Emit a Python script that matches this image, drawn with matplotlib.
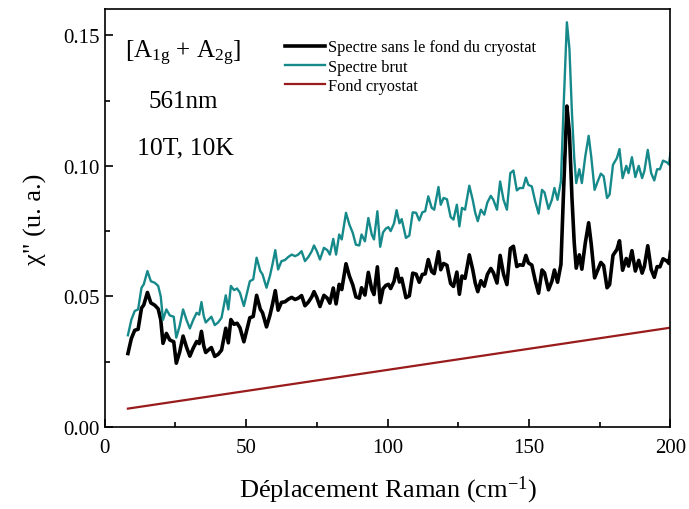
import matplotlib
matplotlib.use("Agg")
import matplotlib.pyplot as plt
from matplotlib.ticker import MultipleLocator

plt.rcParams['font.family'] = ['Liberation Serif', 'DejaVu Serif']
plt.rcParams['mathtext.fontset'] = 'custom'
plt.rcParams['mathtext.rm'] = 'Liberation Serif'
plt.rcParams['mathtext.it'] = 'Liberation Serif:italic'

# Déplacement Raman (cm-1)
raman = [8.2, 9.4, 10.6, 11.8, 13.0, 13.8, 15.1, 16.3, 17.7, 18.9,
         19.8, 20.6, 21.8, 23.0, 24.4, 25.3, 26.5, 27.7, 28.9, 30.1,
         31.3, 32.5, 33.4, 34.2, 35.0, 35.7, 36.6, 37.7, 38.9, 40.1,
         41.3, 42.8, 43.7, 44.6, 45.7, 46.8, 47.8, 49.2, 50.2, 51.3,
         52.5, 53.7, 55.0, 55.8, 57.2, 58.4, 59.3, 60.3, 61.3, 62.5,
         63.7, 64.9, 66.1, 67.3, 68.4, 69.6, 70.8, 72.0, 73.2, 74.0,
         75.0, 76.1, 77.5, 78.7, 79.6, 80.8, 81.8, 82.9, 83.8, 85.3,
         86.5, 87.7, 88.8, 90.0, 90.8, 92.0, 93.2, 94.4, 95.2, 96.4,
         97.4, 98.4, 99.4, 100.3, 101.1, 102.3, 103.2, 104.2, 105.0, 106.5,
         107.7, 108.9, 110.1, 111.2, 112.3, 113.3, 114.4, 115.6, 116.5, 118.0,
         118.8, 119.8, 121.0, 122.3, 123.3, 124.5, 125.4, 126.3, 127.4, 128.9,
         130.1, 131.0, 131.9, 133.0, 134.2, 135.3, 136.5, 137.4, 138.7, 139.8,
         141.0, 142.2, 143.4, 144.5, 145.7, 146.7, 147.9, 148.9, 149.8, 151.0,
         152.2, 153.4, 154.6, 155.5, 156.9, 158.1, 159.0, 160.1, 161.3, 162.2,
         163.4, 164.3, 165.2, 166.0, 166.7, 167.8, 168.7, 169.9, 171.1, 172.0,
         173.2, 174.3, 175.4, 176.4, 177.6, 178.5, 179.7, 181.1, 182.0, 183.1,
         184.4, 185.2, 186.4, 187.6, 188.8, 190.0, 190.8, 192.0, 193.2, 194.3,
         195.3, 196.3, 197.4, 198.8, 199.5, 200.0]

# Spectre brut
brut = [0.0351, 0.041, 0.0444, 0.045, 0.0533, 0.0546, 0.0597, 0.0558, 0.0552, 0.054,
        0.050, 0.041, 0.045, 0.0427, 0.0422, 0.0342, 0.0387, 0.045, 0.041, 0.0377,
        0.041, 0.0437, 0.043, 0.0478, 0.0425, 0.040, 0.041, 0.0422, 0.039, 0.040,
        0.0418, 0.0504, 0.045, 0.054, 0.0524, 0.053, 0.0514, 0.0463, 0.0508, 0.0558,
        0.0565, 0.0648, 0.0597, 0.0584, 0.0533, 0.0578, 0.0622, 0.0677, 0.0603, 0.0635,
        0.0639, 0.0651, 0.066, 0.0654, 0.066, 0.0673, 0.0635, 0.0651, 0.0673, 0.0695,
        0.0673, 0.0641, 0.0686, 0.0677, 0.066, 0.072, 0.066, 0.0737, 0.0718, 0.082,
        0.0775, 0.0743, 0.0698, 0.0695, 0.0737, 0.0711, 0.080, 0.0737, 0.0718, 0.0826,
        0.069, 0.0745, 0.076, 0.0765, 0.075, 0.078, 0.083, 0.078, 0.0796, 0.0724,
        0.0733, 0.0822, 0.082, 0.0791, 0.0822, 0.0826, 0.0883, 0.0839, 0.0832, 0.0919,
        0.0851, 0.0877, 0.0872, 0.0804, 0.0794, 0.0851, 0.0768, 0.0839, 0.0832, 0.0924,
        0.087, 0.082, 0.0788, 0.0832, 0.0813, 0.086, 0.0885, 0.087, 0.0832, 0.094,
        0.087, 0.0832, 0.0972, 0.0982, 0.0906, 0.0915, 0.0915, 0.0955, 0.0927, 0.0921,
        0.0864, 0.0817, 0.0908, 0.0898, 0.0835, 0.087, 0.0915, 0.087, 0.094, 0.1214,
        0.155, 0.1449, 0.120, 0.103, 0.0934, 0.0987, 0.0934, 0.1036, 0.1115, 0.1036,
        0.0908, 0.094, 0.097, 0.096, 0.0877, 0.089, 0.1004, 0.103, 0.1064, 0.0953,
        0.100, 0.0972, 0.1033, 0.0957, 0.100, 0.0953, 0.098, 0.1061, 0.0972, 0.0944,
        0.0987, 0.0987, 0.102, 0.1013, 0.1005, 0.105]

# Spectre sans le fond du cryostat
sans_fond = [0.0281, 0.0338, 0.0370, 0.0374, 0.0455, 0.0467, 0.0515, 0.0475, 0.0466, 0.0452,
             0.0411, 0.0320, 0.0358, 0.0333, 0.0326, 0.0244, 0.0287, 0.0348, 0.0306, 0.0271,
             0.0302, 0.0327, 0.0319, 0.0366, 0.0311, 0.0285, 0.0294, 0.0304, 0.0270, 0.0278,
             0.0294, 0.0378, 0.0322, 0.0411, 0.0393, 0.0397, 0.0380, 0.0326, 0.0370, 0.0418,
             0.0423, 0.0504, 0.0451, 0.0437, 0.0383, 0.0427, 0.0469, 0.0522, 0.0447, 0.0477,
             0.0479, 0.0489, 0.0496, 0.0488, 0.0493, 0.0503, 0.0464, 0.0478, 0.0498, 0.0518,
             0.0495, 0.0461, 0.0504, 0.0493, 0.0474, 0.0532, 0.0471, 0.0546, 0.0526, 0.0625,
             0.0578, 0.0544, 0.0498, 0.0493, 0.0533, 0.0505, 0.0592, 0.0527, 0.0507, 0.0613,
             0.0476, 0.0529, 0.0542, 0.0546, 0.0530, 0.0558, 0.0606, 0.0555, 0.0569, 0.0495,
             0.0502, 0.0589, 0.0585, 0.0554, 0.0584, 0.0586, 0.0641, 0.0595, 0.0587, 0.0671,
             0.0602, 0.0626, 0.0619, 0.0549, 0.0538, 0.0593, 0.0508, 0.0578, 0.0569, 0.0659,
             0.0603, 0.0551, 0.0518, 0.0560, 0.0539, 0.0584, 0.0607, 0.0591, 0.0551, 0.0657,
             0.0585, 0.0545, 0.0683, 0.0692, 0.0614, 0.0621, 0.0619, 0.0657, 0.0628, 0.0620,
             0.0561, 0.0512, 0.0601, 0.0590, 0.0525, 0.0558, 0.0601, 0.0554, 0.0622, 0.0895,
             0.1229, 0.1127, 0.0876, 0.0705, 0.0608, 0.0659, 0.0604, 0.0704, 0.0782, 0.0701,
             0.0571, 0.0601, 0.0630, 0.0618, 0.0533, 0.0545, 0.0657, 0.0680, 0.0713, 0.0600,
             0.0645, 0.0616, 0.0675, 0.0597, 0.0638, 0.0589, 0.0615, 0.0694, 0.0603, 0.0573,
             0.0614, 0.0613, 0.0644, 0.0635, 0.0626, 0.0670]

# Fond cryostat (droite)
fond_x = [8.2, 200.0]
fond_y = [0.0070, 0.0380]

fig = plt.figure(figsize=(6.89, 5.10), dpi=100)
ax = fig.add_axes([0.152, 0.161, 0.821, 0.819])

ax.plot(raman, sans_fond, color='black', lw=2.6, label='Spectre sans le fond du cryostat')
ax.plot(raman, brut, color='#16898a', lw=1.7, label='Spectre brut')
ax.plot(fond_x, fond_y, color='#991b1b', lw=1.6, label='Fond cryostat')

ax.set_xlim(0, 200)
ax.set_ylim(0, 0.16)
ax.xaxis.set_major_locator(MultipleLocator(50))
ax.xaxis.set_minor_locator(MultipleLocator(25))
ax.yaxis.set_major_locator(MultipleLocator(0.05))
ax.yaxis.set_minor_locator(MultipleLocator(0.025))
ax.yaxis.set_major_formatter(matplotlib.ticker.FormatStrFormatter('%.2f'))
ax.tick_params(which='both', direction='in', labelsize=15, width=1.2)
ax.tick_params(which='major', length=6)
ax.tick_params(which='minor', length=3.5)
ax.tick_params(axis='x', pad=8)
for s in ax.spines.values():
    s.set_linewidth(1.2)

ax.set_xlabel('Déplacement Raman (cm$^{\\mathrm{-1}}$)', fontsize=19, labelpad=12)
ax.set_ylabel('χ" (u. a.)', fontsize=19, labelpad=12)

ax.text(27.6, 0.1435, '[A$_{\\mathrm{1g}}$ + A$_{\\mathrm{2g}}$]', fontsize=18, ha='center', va='center')
ax.text(27.6, 0.125, '561nm', fontsize=18, ha='center', va='center')
ax.text(28.5, 0.107, '10T, 10K', fontsize=18.5, ha='center', va='center')

ax.legend(loc='upper left', bbox_to_anchor=(0.3186, 0.928), frameon=False, fontsize=11.8,
          handlelength=2.45, handletextpad=0.18, labelspacing=0.2, borderpad=0, borderaxespad=0)

plt.savefig("out.png", dpi=100)
plt.close()
